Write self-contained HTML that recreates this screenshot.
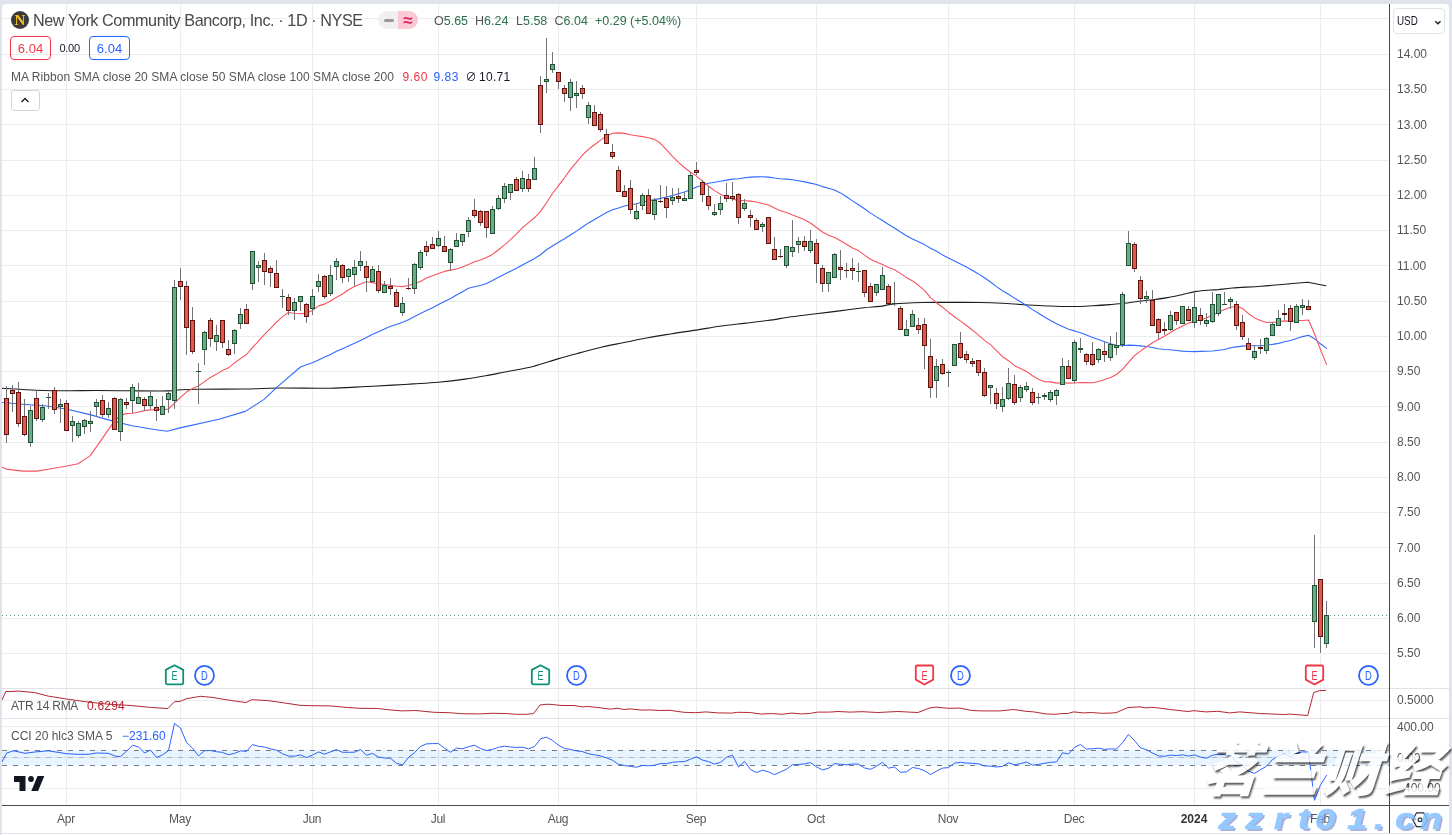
<!DOCTYPE html>
<html lang="en"><head><meta charset="utf-8"><title>NYCB chart</title>
<style>
html,body{margin:0;padding:0}
body{width:1452px;height:835px;background:#e0e3eb;position:relative;overflow:hidden;font-family:"Liberation Sans","Noto Sans CJK SC",sans-serif;color:#131722}
#card{position:absolute;left:2px;top:4px;width:1447px;height:829px;background:#fff;border-radius:4px 4px 0 0}
.abs{position:absolute;white-space:nowrap}
.pl{position:absolute;left:1397px;font-size:12px;line-height:15px;color:#555;white-space:nowrap;letter-spacing:0}
.tl{position:absolute;top:812px;width:60px;text-align:center;font-size:12px;line-height:15px;color:#555;letter-spacing:-0.3px}
.tl.b{color:#333;font-weight:bold;letter-spacing:0}
.g{color:#555}
.box{position:absolute;box-sizing:border-box;border-radius:4px;border:1px solid;height:24px;width:41px;top:36px;text-align:center;font-size:13px;line-height:24px}
#wm1{position:absolute;left:1197px;top:731px;font-size:57px;line-height:70px;font-weight:900;color:#fff;opacity:0.78;text-shadow:2px 2px 2px rgba(0,0,0,0.85);white-space:nowrap;font-family:"Noto Sans CJK SC","WenQuanYi Zen Hei",sans-serif;letter-spacing:4px;transform:skewX(-18deg);transform-origin:left bottom}
#wm2{position:absolute;left:0;top:800px;height:38px;font-size:30px;line-height:38px;font-weight:bold;font-style:italic;color:#82c0ff;opacity:0.85;-webkit-text-stroke:0.7px #82c0ff;text-shadow:2px 2px 0 rgba(110,125,200,0.7);white-space:nowrap;font-family:"Liberation Sans",sans-serif}
#wm2 span{position:absolute;top:0;width:40px;text-align:center;transform:scaleX(1.18)}
</style></head><body>
<div id="card"></div><div style="position:absolute;left:2px;top:834px;width:1447px;height:1px;background:#fff"></div>
<svg width="1452" height="835" viewBox="0 0 1452 835" style="position:absolute;left:0;top:0"><defs><clipPath id="mp"><rect x="2" y="4" width="1387" height="801"/></clipPath></defs><rect x="2" y="18" width="1387" height="1" fill="#ececec"/>
<rect x="2" y="54" width="1387" height="1" fill="#ececec"/>
<rect x="2" y="89" width="1387" height="1" fill="#ececec"/>
<rect x="2" y="124" width="1387" height="1" fill="#ececec"/>
<rect x="2" y="160" width="1387" height="1" fill="#ececec"/>
<rect x="2" y="195" width="1387" height="1" fill="#ececec"/>
<rect x="2" y="230" width="1387" height="1" fill="#ececec"/>
<rect x="2" y="265" width="1387" height="1" fill="#ececec"/>
<rect x="2" y="301" width="1387" height="1" fill="#ececec"/>
<rect x="2" y="336" width="1387" height="1" fill="#ececec"/>
<rect x="2" y="371" width="1387" height="1" fill="#ececec"/>
<rect x="2" y="406" width="1387" height="1" fill="#ececec"/>
<rect x="2" y="442" width="1387" height="1" fill="#ececec"/>
<rect x="2" y="477" width="1387" height="1" fill="#ececec"/>
<rect x="2" y="512" width="1387" height="1" fill="#ececec"/>
<rect x="2" y="547" width="1387" height="1" fill="#ececec"/>
<rect x="2" y="583" width="1387" height="1" fill="#ececec"/>
<rect x="2" y="618" width="1387" height="1" fill="#ececec"/>
<rect x="2" y="653" width="1387" height="1" fill="#ececec"/>
<rect x="66" y="4" width="1" height="801" fill="#ececec"/>
<rect x="180" y="4" width="1" height="801" fill="#ececec"/>
<rect x="312" y="4" width="1" height="801" fill="#ececec"/>
<rect x="438" y="4" width="1" height="801" fill="#ececec"/>
<rect x="558" y="4" width="1" height="801" fill="#ececec"/>
<rect x="696" y="4" width="1" height="801" fill="#ececec"/>
<rect x="816" y="4" width="1" height="801" fill="#ececec"/>
<rect x="948" y="4" width="1" height="801" fill="#ececec"/>
<rect x="1074" y="4" width="1" height="801" fill="#ececec"/>
<rect x="1194" y="4" width="1" height="801" fill="#ececec"/>
<rect x="1320" y="4" width="1" height="801" fill="#ececec"/>
<rect x="2" y="700" width="1387" height="1" fill="#ececec"/>
<rect x="2" y="726" width="1387" height="1" fill="#ececec"/>
<rect x="2" y="757" width="1387" height="1" fill="#ececec"/>
<rect x="2" y="788" width="1387" height="1" fill="#ececec"/><rect x="2" y="688" width="1447" height="1" fill="#e0e3eb"/><rect x="2" y="718" width="1447" height="1" fill="#e0e3eb"/><rect x="2" y="750" width="1387" height="15.5" fill="#2196f3" fill-opacity="0.1"/><line x1="2" x2="1389" y1="750.5" y2="750.5" stroke="#787b86" stroke-width="1" stroke-dasharray="5 6"/><line x1="2" x2="1389" y1="757.5" y2="757.5" stroke="#b0b3bb" stroke-width="1" stroke-dasharray="5 6"/><line x1="2" x2="1389" y1="765.5" y2="765.5" stroke="#787b86" stroke-width="1" stroke-dasharray="5 6"/><g clip-path="url(#mp)"><line x1="2" x2="1389" y1="615.5" y2="615.5" stroke="#5b9a76" stroke-width="1" stroke-dasharray="1 3"/><path d="M2.0,388.2 C7.7,388.5 25.2,389.8 36.0,390.2 C46.8,390.6 57.0,390.8 67.0,390.8 C77.0,390.9 85.2,390.5 96.0,390.5 C106.8,390.5 120.0,390.7 132.0,390.8 C144.0,390.9 160.0,391.1 168.0,390.9 C176.0,390.7 175.1,390.1 180.2,389.8 C185.3,389.5 187.7,389.3 198.5,389.2 C209.3,389.1 231.8,389.2 245.0,389.0 C258.2,388.8 265.8,388.1 278.0,388.0 C290.2,387.9 309.2,388.2 318.0,388.2 C326.8,388.2 323.4,388.4 330.7,388.2 C338.0,388.0 351.4,387.3 361.7,386.8 C372.0,386.3 384.0,385.6 392.6,385.1 C401.2,384.6 405.7,384.4 413.3,383.9 C420.9,383.4 429.5,383.0 438.1,382.2 C446.7,381.4 457.1,380.2 465.0,379.1 C472.9,378.0 478.7,377.0 485.6,375.8 C492.5,374.6 498.4,373.2 506.3,371.7 C514.2,370.1 524.5,368.6 533.1,366.5 C541.7,364.4 550.3,361.1 557.9,358.9 C565.5,356.7 571.7,355.0 578.6,353.1 C585.5,351.2 591.7,349.5 599.3,347.7 C606.9,345.9 615.9,344.2 624.0,342.5 C632.1,340.8 639.9,339.2 647.9,337.7 C655.9,336.2 663.9,335.0 671.9,333.7 C679.9,332.4 687.9,331.4 695.9,330.1 C703.9,328.9 711.8,327.3 719.8,326.2 C727.8,325.1 735.8,324.3 743.8,323.4 C751.8,322.4 759.7,321.6 767.7,320.5 C775.7,319.4 783.7,317.8 791.7,316.7 C799.7,315.6 807.7,314.8 815.7,313.8 C823.7,312.8 831.6,311.9 839.6,310.9 C847.6,309.9 856.9,308.6 863.6,307.8 C870.3,307.1 874.9,307.0 880.0,306.4 C885.1,305.8 887.2,304.5 894.4,303.9 C901.6,303.2 913.5,302.8 923.1,302.5 C932.7,302.2 942.3,302.4 951.9,302.4 C961.5,302.4 972.2,302.4 980.6,302.5 C989.0,302.6 995.0,302.9 1002.2,303.3 C1009.4,303.7 1019.4,304.4 1023.8,304.7 C1028.2,305.0 1024.1,304.8 1028.4,305.0 C1032.8,305.2 1042.2,305.8 1049.9,306.0 C1057.6,306.2 1067.2,306.6 1074.4,306.5 C1081.6,306.4 1087.1,306.0 1093.0,305.7 C1098.9,305.4 1104.8,305.0 1110.0,304.6 C1115.2,304.2 1119.6,303.9 1124.4,303.3 C1129.2,302.7 1133.9,301.8 1138.7,301.2 C1143.5,300.6 1148.3,300.3 1153.1,299.7 C1157.9,299.1 1162.7,298.4 1167.5,297.6 C1172.3,296.8 1177.1,295.7 1181.9,294.7 C1186.7,293.7 1191.4,292.2 1196.2,291.4 C1201.0,290.6 1207.0,290.3 1210.6,290.0 C1214.2,289.7 1214.4,290.0 1218.0,289.7 C1221.6,289.4 1225.2,288.6 1232.4,288.0 C1239.6,287.4 1251.5,287.0 1261.1,286.3 C1270.7,285.6 1285.1,284.1 1289.9,283.7" fill="none" stroke="#1c1c1c" stroke-width="1.1" stroke-linejoin="round" stroke-linecap="round"/><polyline points="1289.9,283.7 1307.8,282.2 1325.8,285.8" fill="none" stroke="#1c1c1c" stroke-width="1.1" stroke-linejoin="round" stroke-linecap="round" /><polyline points="1.5,402.5 23.0,404.2 47.0,406.0 67.0,409.2 90.0,414.6 112.0,420.9 132.0,425.8 156.0,429.7 167.0,431.3 180.0,427.9 218.9,419.3 245.3,411.4 263.7,399.6 277.9,386.4 300.5,367.0 306.5,364.7 312.5,362.7 318.5,359.9 324.5,357.1 330.5,354.4 336.5,351.3 342.5,348.7 348.5,346.1 354.5,343.3 360.5,340.4 366.5,337.4 372.5,334.3 378.5,331.7 384.5,329.0 390.5,326.3 396.5,324.4 402.5,322.2 408.5,319.8 414.5,316.5 420.5,313.5 426.5,310.5 432.5,307.7 438.5,304.5 444.5,301.4 450.5,298.5 456.5,295.1 462.5,291.7 468.5,288.2 474.5,286.8 480.5,285.5 486.5,283.5 492.5,280.6 498.5,277.2 504.5,274.3 510.5,271.2 516.5,268.3 522.5,265.0 528.5,261.7 534.5,258.5 540.5,254.7 546.5,249.8 552.5,246.0 558.5,242.3 564.5,238.8 570.5,235.0 576.5,231.1 582.5,227.0 588.5,222.9 594.5,219.4 600.5,216.0 606.5,212.6 612.5,209.8 618.5,208.0 624.5,206.0 630.5,204.7 636.5,203.7 642.5,202.0 648.5,200.9 654.5,199.6 660.5,198.4 666.5,197.0 672.5,195.6 678.5,193.7 684.5,192.0 690.5,189.7 696.5,187.1 702.5,184.9 708.5,183.2 714.5,182.2 720.5,181.2 726.5,180.1 732.5,179.1 738.5,178.7 744.5,177.7 750.5,177.1 756.5,176.9 762.5,176.7 768.5,177.1 774.5,178.0 780.5,178.7 786.5,179.1 792.5,179.8 798.5,180.7 804.5,181.9 810.5,183.1 816.5,184.5 822.5,186.6 828.5,188.3 834.5,190.0 840.5,192.9 846.5,196.8 852.5,200.9 858.5,204.7 864.5,208.7 870.5,213.1 876.5,216.9 882.5,220.5 888.5,224.5 894.5,228.0 900.5,232.0 906.5,235.8 912.5,238.9 918.5,241.7 924.5,244.6 930.5,248.2 936.5,251.3 942.5,254.9 948.5,258.0 954.5,260.9 960.5,264.0 966.5,267.1 972.5,270.4 978.5,273.9 984.5,277.8 990.5,282.0 996.5,286.6 1002.5,290.7 1008.5,294.3 1014.5,298.1 1020.5,301.8 1026.5,305.5 1032.5,309.6 1038.5,313.2 1044.5,317.0 1050.5,320.5 1056.5,323.7 1062.5,326.6 1068.5,329.3 1074.5,330.9 1080.5,332.8 1086.5,335.1 1092.5,337.4 1098.5,339.6 1104.5,341.7 1110.5,343.8 1116.5,345.4 1122.5,345.7 1128.5,345.1 1134.5,345.4 1140.5,345.9 1146.5,346.5 1152.5,347.5 1158.5,348.8 1164.5,349.5 1170.5,349.8 1176.5,350.5 1182.5,351.1 1188.5,351.5 1194.5,351.6 1200.5,351.4 1206.5,351.2 1212.5,351.0 1218.5,350.3 1224.5,349.5 1230.5,347.7 1236.5,346.9 1242.5,346.1 1248.5,345.7 1254.5,345.8 1260.5,345.6 1266.5,345.2 1272.5,344.4 1278.5,343.4 1284.5,341.7 1290.5,340.5 1296.5,338.5 1302.5,336.6 1308.5,335.2 1314.5,338.8 1320.5,343.8 1326.5,348.4" fill="none" stroke="#2f6bff" stroke-width="1.1" stroke-linejoin="round" stroke-linecap="round" /><polyline points="1.5,466.8 6.0,469.1 23.0,471.1 37.0,471.1 51.0,468.7 67.0,466.0 78.0,463.7 90.0,455.9 100.0,441.9 109.0,428.6 115.0,420.9 120.5,415.1 126.5,413.6 132.5,413.3 138.5,412.0 144.5,410.6 150.5,409.9 156.5,409.5 162.5,409.4 168.5,409.2 174.5,403.1 180.5,397.3 186.5,392.1 192.5,388.6 198.5,386.0 204.5,381.6 210.5,377.4 216.5,374.1 222.5,370.5 228.5,367.8 234.5,362.8 240.5,358.6 246.5,354.5 252.5,347.7 258.5,341.1 264.5,334.4 270.5,328.3 276.5,322.1 282.5,316.6 288.5,312.5 294.5,313.2 300.5,313.7 306.5,313.1 312.5,310.4 318.5,305.9 324.5,304.1 330.5,301.0 336.5,297.3 342.5,294.0 348.5,289.8 354.5,286.6 360.5,283.9 366.5,281.7 372.5,282.6 378.5,283.8 384.5,284.5 390.5,285.3 396.5,286.2 402.5,286.6 408.5,285.5 414.5,283.6 420.5,281.4 426.5,278.1 432.5,275.8 438.5,273.6 444.5,271.4 450.5,270.1 456.5,269.0 462.5,266.9 468.5,264.4 474.5,261.8 480.5,259.9 486.5,257.4 492.5,254.4 498.5,249.8 504.5,244.9 510.5,239.7 516.5,233.9 522.5,227.6 528.5,222.6 534.5,217.8 540.5,211.4 546.5,202.8 552.5,193.5 558.5,185.7 564.5,177.8 570.5,169.4 576.5,162.1 582.5,155.0 588.5,149.3 594.5,144.7 600.5,140.1 606.5,135.9 612.5,133.3 618.5,132.9 624.5,133.4 630.5,134.7 636.5,135.7 642.5,136.6 648.5,137.8 654.5,139.4 660.5,143.3 666.5,149.8 672.5,156.4 678.5,162.3 684.5,167.5 690.5,172.2 696.5,176.1 702.5,181.2 708.5,186.2 714.5,190.6 720.5,194.3 726.5,197.0 732.5,199.1 738.5,200.4 744.5,200.7 750.5,201.1 756.5,202.0 762.5,203.5 768.5,205.0 774.5,207.9 780.5,210.7 786.5,212.6 792.5,215.1 798.5,217.3 804.5,219.7 810.5,223.0 816.5,227.5 822.5,232.0 828.5,235.3 834.5,237.4 840.5,240.7 846.5,244.3 852.5,248.0 858.5,250.6 864.5,255.1 870.5,259.3 876.5,262.0 882.5,264.6 888.5,267.6 894.5,269.8 900.5,273.4 906.5,277.6 912.5,280.9 918.5,285.3 924.5,290.3 930.5,297.6 936.5,302.7 942.5,307.2 948.5,312.2 954.5,316.7 960.5,321.1 966.5,325.5 972.5,330.2 978.5,335.2 984.5,340.4 990.5,344.6 996.5,350.6 1002.5,356.7 1008.5,360.7 1014.5,365.7 1020.5,368.6 1026.5,371.4 1032.5,375.8 1038.5,379.2 1044.5,381.7 1050.5,381.9 1056.5,383.1 1062.5,382.8 1068.5,383.1 1074.5,383.0 1080.5,382.5 1086.5,382.6 1092.5,382.7 1098.5,381.5 1104.5,379.5 1110.5,377.4 1116.5,374.5 1122.5,369.3 1128.5,362.3 1134.5,355.6 1140.5,351.1 1146.5,346.7 1152.5,342.8 1158.5,339.6 1164.5,336.3 1170.5,332.5 1176.5,329.0 1182.5,326.0 1188.5,323.1 1194.5,321.3 1200.5,319.9 1206.5,317.9 1212.5,314.9 1218.5,312.1 1224.5,309.6 1230.5,307.3 1236.5,306.3 1242.5,308.4 1248.5,313.7 1254.5,317.9 1260.5,320.4 1266.5,322.5 1272.5,322.4 1278.5,321.7 1284.5,320.9 1290.5,321.2 1296.5,320.5 1302.5,320.5 1308.5,320.0 1314.5,333.8 1320.5,349.6 1326.5,364.4" fill="none" stroke="#f7525f" stroke-width="1.1" stroke-linejoin="round" stroke-linecap="round" /><rect x="6" y="386" width="1" height="57" fill="#737375"/>
<rect x="4.5" y="398.5" width="4" height="36" fill="#e0594a" stroke="#5c1410" stroke-width="1"/>
<rect x="12" y="385" width="1" height="27" fill="#737375"/>
<rect x="10.5" y="390.5" width="4" height="3" fill="#e0594a" stroke="#5c1410" stroke-width="1"/>
<rect x="18" y="382" width="1" height="45" fill="#737375"/>
<rect x="16.5" y="392.5" width="4" height="31" fill="#e0594a" stroke="#5c1410" stroke-width="1"/>
<rect x="24" y="399" width="1" height="37" fill="#737375"/>
<rect x="22.5" y="416.5" width="4" height="18" fill="#e0594a" stroke="#5c1410" stroke-width="1"/>
<rect x="30" y="406" width="1" height="41" fill="#737375"/>
<rect x="28.5" y="410.5" width="4" height="32" fill="#6eaa88" stroke="#1f5132" stroke-width="1"/>
<rect x="36" y="390" width="1" height="31" fill="#737375"/>
<rect x="34.5" y="398.5" width="4" height="20" fill="#e0594a" stroke="#5c1410" stroke-width="1"/>
<rect x="42" y="404" width="1" height="18" fill="#737375"/>
<rect x="40.5" y="407.5" width="4" height="12" fill="#6eaa88" stroke="#1f5132" stroke-width="1"/>
<rect x="48" y="393" width="1" height="16" fill="#737375"/>
<rect x="46" y="397" width="5" height="1" fill="#1f5132"/>
<rect x="54" y="387" width="1" height="27" fill="#737375"/>
<rect x="52.5" y="390.5" width="4" height="19" fill="#e0594a" stroke="#5c1410" stroke-width="1"/>
<rect x="60" y="399" width="1" height="24" fill="#737375"/>
<rect x="58.5" y="404.5" width="4" height="2" fill="#6eaa88" stroke="#1f5132" stroke-width="1"/>
<rect x="66" y="400" width="1" height="31" fill="#737375"/>
<rect x="64.5" y="403.5" width="4" height="27" fill="#e0594a" stroke="#5c1410" stroke-width="1"/>
<rect x="72" y="416" width="1" height="26" fill="#737375"/>
<rect x="70.5" y="421.5" width="4" height="4" fill="#6eaa88" stroke="#1f5132" stroke-width="1"/>
<rect x="78" y="421" width="1" height="17" fill="#737375"/>
<rect x="76.5" y="423.5" width="4" height="12" fill="#6eaa88" stroke="#1f5132" stroke-width="1"/>
<rect x="84" y="419" width="1" height="15" fill="#737375"/>
<rect x="82.5" y="420.5" width="4" height="6" fill="#6eaa88" stroke="#1f5132" stroke-width="1"/>
<rect x="90" y="411" width="1" height="21" fill="#737375"/>
<rect x="88.5" y="421.5" width="4" height="2" fill="#6eaa88" stroke="#1f5132" stroke-width="1"/>
<rect x="96" y="399" width="1" height="18" fill="#737375"/>
<rect x="94.5" y="402.5" width="4" height="4" fill="#6eaa88" stroke="#1f5132" stroke-width="1"/>
<rect x="102" y="395" width="1" height="22" fill="#737375"/>
<rect x="100.5" y="400.5" width="4" height="14" fill="#e0594a" stroke="#5c1410" stroke-width="1"/>
<rect x="108" y="402" width="1" height="16" fill="#737375"/>
<rect x="106.5" y="408.5" width="4" height="6" fill="#6eaa88" stroke="#1f5132" stroke-width="1"/>
<rect x="114" y="397" width="1" height="33" fill="#737375"/>
<rect x="112.5" y="398.5" width="4" height="31" fill="#e0594a" stroke="#5c1410" stroke-width="1"/>
<rect x="120" y="398" width="1" height="43" fill="#737375"/>
<rect x="118.5" y="399.5" width="4" height="32" fill="#6eaa88" stroke="#1f5132" stroke-width="1"/>
<rect x="126" y="398" width="1" height="11" fill="#737375"/>
<rect x="124.5" y="402.5" width="4" height="2" fill="#e0594a" stroke="#5c1410" stroke-width="1"/>
<rect x="132" y="384" width="1" height="29" fill="#737375"/>
<rect x="130.5" y="387.5" width="4" height="13" fill="#6eaa88" stroke="#1f5132" stroke-width="1"/>
<rect x="138" y="383" width="1" height="21" fill="#737375"/>
<rect x="136.5" y="397.5" width="4" height="6" fill="#6eaa88" stroke="#1f5132" stroke-width="1"/>
<rect x="144" y="397" width="1" height="14" fill="#737375"/>
<rect x="142.5" y="399.5" width="4" height="6" fill="#e0594a" stroke="#5c1410" stroke-width="1"/>
<rect x="150" y="391" width="1" height="18" fill="#737375"/>
<rect x="148.5" y="396.5" width="4" height="9" fill="#6eaa88" stroke="#1f5132" stroke-width="1"/>
<rect x="156" y="399" width="1" height="22" fill="#737375"/>
<rect x="154.5" y="407.5" width="4" height="3" fill="#e0594a" stroke="#5c1410" stroke-width="1"/>
<rect x="162" y="396" width="1" height="19" fill="#737375"/>
<rect x="160.5" y="406.5" width="4" height="8" fill="#6eaa88" stroke="#1f5132" stroke-width="1"/>
<rect x="168" y="391" width="1" height="22" fill="#737375"/>
<rect x="166.5" y="393.5" width="4" height="6" fill="#6eaa88" stroke="#1f5132" stroke-width="1"/>
<rect x="174" y="280" width="1" height="129" fill="#737375"/>
<rect x="172.5" y="287.5" width="4" height="113" fill="#6eaa88" stroke="#1f5132" stroke-width="1"/>
<rect x="180" y="268" width="1" height="32" fill="#737375"/>
<rect x="178.5" y="281.5" width="4" height="5" fill="#e0594a" stroke="#5c1410" stroke-width="1"/>
<rect x="186" y="281" width="1" height="74" fill="#737375"/>
<rect x="184.5" y="286.5" width="4" height="41" fill="#e0594a" stroke="#5c1410" stroke-width="1"/>
<rect x="192" y="307" width="1" height="47" fill="#737375"/>
<rect x="190.5" y="320.5" width="4" height="31" fill="#e0594a" stroke="#5c1410" stroke-width="1"/>
<rect x="198" y="363" width="1" height="41" fill="#737375"/>
<rect x="196" y="371" width="5" height="1" fill="#1f5132"/>
<rect x="204" y="331" width="1" height="34" fill="#737375"/>
<rect x="202.5" y="332.5" width="4" height="17" fill="#6eaa88" stroke="#1f5132" stroke-width="1"/>
<rect x="210" y="318" width="1" height="29" fill="#737375"/>
<rect x="208.5" y="320.5" width="4" height="18" fill="#e0594a" stroke="#5c1410" stroke-width="1"/>
<rect x="216" y="325" width="1" height="26" fill="#737375"/>
<rect x="214.5" y="335.5" width="4" height="6" fill="#6eaa88" stroke="#1f5132" stroke-width="1"/>
<rect x="222" y="320" width="1" height="28" fill="#737375"/>
<rect x="220.5" y="320.5" width="4" height="22" fill="#e0594a" stroke="#5c1410" stroke-width="1"/>
<rect x="228" y="340" width="1" height="16" fill="#737375"/>
<rect x="226.5" y="349.5" width="4" height="5" fill="#e0594a" stroke="#5c1410" stroke-width="1"/>
<rect x="234" y="329" width="1" height="25" fill="#737375"/>
<rect x="232.5" y="330.5" width="4" height="13" fill="#6eaa88" stroke="#1f5132" stroke-width="1"/>
<rect x="240" y="308" width="1" height="21" fill="#737375"/>
<rect x="238.5" y="314.5" width="4" height="9" fill="#6eaa88" stroke="#1f5132" stroke-width="1"/>
<rect x="246" y="304" width="1" height="20" fill="#737375"/>
<rect x="244.5" y="309.5" width="4" height="14" fill="#e0594a" stroke="#5c1410" stroke-width="1"/>
<rect x="252" y="251" width="1" height="39" fill="#737375"/>
<rect x="250.5" y="251.5" width="4" height="32" fill="#6eaa88" stroke="#1f5132" stroke-width="1"/>
<rect x="258" y="261" width="1" height="21" fill="#737375"/>
<rect x="256.5" y="265.5" width="4" height="2" fill="#6eaa88" stroke="#1f5132" stroke-width="1"/>
<rect x="264" y="253" width="1" height="32" fill="#737375"/>
<rect x="262.5" y="260.5" width="4" height="11" fill="#e0594a" stroke="#5c1410" stroke-width="1"/>
<rect x="270" y="266" width="1" height="21" fill="#737375"/>
<rect x="268.5" y="268.5" width="4" height="4" fill="#e0594a" stroke="#5c1410" stroke-width="1"/>
<rect x="276" y="260" width="1" height="28" fill="#737375"/>
<rect x="274.5" y="273.5" width="4" height="14" fill="#e0594a" stroke="#5c1410" stroke-width="1"/>
<rect x="282" y="289" width="1" height="19" fill="#737375"/>
<rect x="280" y="296" width="5" height="1" fill="#1f5132"/>
<rect x="288" y="294" width="1" height="21" fill="#737375"/>
<rect x="286.5" y="297.5" width="4" height="13" fill="#e0594a" stroke="#5c1410" stroke-width="1"/>
<rect x="294" y="298" width="1" height="22" fill="#737375"/>
<rect x="292.5" y="302.5" width="4" height="8" fill="#6eaa88" stroke="#1f5132" stroke-width="1"/>
<rect x="300" y="296" width="1" height="15" fill="#737375"/>
<rect x="298.5" y="296.5" width="4" height="5" fill="#6eaa88" stroke="#1f5132" stroke-width="1"/>
<rect x="306" y="303" width="1" height="20" fill="#737375"/>
<rect x="304.5" y="304.5" width="4" height="12" fill="#e0594a" stroke="#5c1410" stroke-width="1"/>
<rect x="312" y="289" width="1" height="26" fill="#737375"/>
<rect x="310.5" y="296.5" width="4" height="12" fill="#6eaa88" stroke="#1f5132" stroke-width="1"/>
<rect x="318" y="274" width="1" height="18" fill="#737375"/>
<rect x="316.5" y="281.5" width="4" height="5" fill="#6eaa88" stroke="#1f5132" stroke-width="1"/>
<rect x="324" y="275" width="1" height="24" fill="#737375"/>
<rect x="322.5" y="276.5" width="4" height="20" fill="#e0594a" stroke="#5c1410" stroke-width="1"/>
<rect x="330" y="265" width="1" height="31" fill="#737375"/>
<rect x="328.5" y="275.5" width="4" height="18" fill="#6eaa88" stroke="#1f5132" stroke-width="1"/>
<rect x="336" y="258" width="1" height="22" fill="#737375"/>
<rect x="334.5" y="261.5" width="4" height="5" fill="#6eaa88" stroke="#1f5132" stroke-width="1"/>
<rect x="342" y="264" width="1" height="19" fill="#737375"/>
<rect x="340.5" y="265.5" width="4" height="12" fill="#e0594a" stroke="#5c1410" stroke-width="1"/>
<rect x="348" y="268" width="1" height="14" fill="#737375"/>
<rect x="346.5" y="269.5" width="4" height="7" fill="#6eaa88" stroke="#1f5132" stroke-width="1"/>
<rect x="354" y="260" width="1" height="26" fill="#737375"/>
<rect x="352.5" y="267.5" width="4" height="7" fill="#6eaa88" stroke="#1f5132" stroke-width="1"/>
<rect x="360" y="251" width="1" height="20" fill="#737375"/>
<rect x="358.5" y="261.5" width="4" height="4" fill="#6eaa88" stroke="#1f5132" stroke-width="1"/>
<rect x="366" y="261" width="1" height="31" fill="#737375"/>
<rect x="364.5" y="266.5" width="4" height="11" fill="#e0594a" stroke="#5c1410" stroke-width="1"/>
<rect x="372" y="266" width="1" height="16" fill="#737375"/>
<rect x="370.5" y="269.5" width="4" height="12" fill="#6eaa88" stroke="#1f5132" stroke-width="1"/>
<rect x="378" y="265" width="1" height="28" fill="#737375"/>
<rect x="376.5" y="271.5" width="4" height="19" fill="#e0594a" stroke="#5c1410" stroke-width="1"/>
<rect x="384" y="281" width="1" height="12" fill="#737375"/>
<rect x="382.5" y="285.5" width="4" height="7" fill="#6eaa88" stroke="#1f5132" stroke-width="1"/>
<rect x="390" y="278" width="1" height="17" fill="#737375"/>
<rect x="388.5" y="286.5" width="4" height="2" fill="#e0594a" stroke="#5c1410" stroke-width="1"/>
<rect x="396" y="289" width="1" height="18" fill="#737375"/>
<rect x="394.5" y="292.5" width="4" height="14" fill="#e0594a" stroke="#5c1410" stroke-width="1"/>
<rect x="402" y="297" width="1" height="19" fill="#737375"/>
<rect x="400.5" y="303.5" width="4" height="9" fill="#6eaa88" stroke="#1f5132" stroke-width="1"/>
<rect x="408" y="278" width="1" height="12" fill="#737375"/>
<rect x="406" y="288" width="5" height="1" fill="#5c1410"/>
<rect x="414" y="263" width="1" height="31" fill="#737375"/>
<rect x="412.5" y="264.5" width="4" height="24" fill="#6eaa88" stroke="#1f5132" stroke-width="1"/>
<rect x="420" y="250" width="1" height="20" fill="#737375"/>
<rect x="418.5" y="252.5" width="4" height="15" fill="#6eaa88" stroke="#1f5132" stroke-width="1"/>
<rect x="426" y="241" width="1" height="15" fill="#737375"/>
<rect x="424.5" y="246.5" width="4" height="5" fill="#e0594a" stroke="#5c1410" stroke-width="1"/>
<rect x="432" y="237" width="1" height="12" fill="#737375"/>
<rect x="430.5" y="244.5" width="4" height="4" fill="#e0594a" stroke="#5c1410" stroke-width="1"/>
<rect x="438" y="231" width="1" height="16" fill="#737375"/>
<rect x="436.5" y="238.5" width="4" height="7" fill="#6eaa88" stroke="#1f5132" stroke-width="1"/>
<rect x="444" y="236" width="1" height="16" fill="#737375"/>
<rect x="442.5" y="246.5" width="4" height="5" fill="#e0594a" stroke="#5c1410" stroke-width="1"/>
<rect x="450" y="248" width="1" height="23" fill="#737375"/>
<rect x="448.5" y="249.5" width="4" height="13" fill="#6eaa88" stroke="#1f5132" stroke-width="1"/>
<rect x="456" y="233" width="1" height="14" fill="#737375"/>
<rect x="454.5" y="240.5" width="4" height="6" fill="#6eaa88" stroke="#1f5132" stroke-width="1"/>
<rect x="462" y="234" width="1" height="12" fill="#737375"/>
<rect x="460.5" y="234.5" width="4" height="7" fill="#6eaa88" stroke="#1f5132" stroke-width="1"/>
<rect x="468" y="217" width="1" height="20" fill="#737375"/>
<rect x="466.5" y="220.5" width="4" height="11" fill="#6eaa88" stroke="#1f5132" stroke-width="1"/>
<rect x="474" y="199" width="1" height="19" fill="#737375"/>
<rect x="472.5" y="210.5" width="4" height="5" fill="#e0594a" stroke="#5c1410" stroke-width="1"/>
<rect x="480" y="210" width="1" height="16" fill="#737375"/>
<rect x="478.5" y="211.5" width="4" height="11" fill="#e0594a" stroke="#5c1410" stroke-width="1"/>
<rect x="486" y="211" width="1" height="27" fill="#737375"/>
<rect x="484.5" y="211.5" width="4" height="16" fill="#e0594a" stroke="#5c1410" stroke-width="1"/>
<rect x="492" y="206" width="1" height="28" fill="#737375"/>
<rect x="490.5" y="209.5" width="4" height="24" fill="#6eaa88" stroke="#1f5132" stroke-width="1"/>
<rect x="498" y="195" width="1" height="15" fill="#737375"/>
<rect x="496.5" y="198.5" width="4" height="10" fill="#6eaa88" stroke="#1f5132" stroke-width="1"/>
<rect x="504" y="183" width="1" height="20" fill="#737375"/>
<rect x="502.5" y="186.5" width="4" height="12" fill="#6eaa88" stroke="#1f5132" stroke-width="1"/>
<rect x="510" y="184" width="1" height="16" fill="#737375"/>
<rect x="508.5" y="184.5" width="4" height="8" fill="#6eaa88" stroke="#1f5132" stroke-width="1"/>
<rect x="516" y="177" width="1" height="14" fill="#737375"/>
<rect x="514.5" y="179.5" width="4" height="11" fill="#e0594a" stroke="#5c1410" stroke-width="1"/>
<rect x="522" y="171" width="1" height="21" fill="#737375"/>
<rect x="520.5" y="178.5" width="4" height="10" fill="#6eaa88" stroke="#1f5132" stroke-width="1"/>
<rect x="528" y="174" width="1" height="18" fill="#737375"/>
<rect x="526.5" y="179.5" width="4" height="9" fill="#e0594a" stroke="#5c1410" stroke-width="1"/>
<rect x="534" y="157" width="1" height="23" fill="#737375"/>
<rect x="532.5" y="168.5" width="4" height="11" fill="#6eaa88" stroke="#1f5132" stroke-width="1"/>
<rect x="540" y="76" width="1" height="57" fill="#737375"/>
<rect x="538.5" y="85.5" width="4" height="39" fill="#e0594a" stroke="#5c1410" stroke-width="1"/>
<rect x="546" y="38" width="1" height="55" fill="#737375"/>
<rect x="544.5" y="79.5" width="4" height="2" fill="#6eaa88" stroke="#1f5132" stroke-width="1"/>
<rect x="552" y="52" width="1" height="21" fill="#737375"/>
<rect x="550.5" y="64.5" width="4" height="5" fill="#6eaa88" stroke="#1f5132" stroke-width="1"/>
<rect x="558" y="72" width="1" height="17" fill="#737375"/>
<rect x="556.5" y="72.5" width="4" height="9" fill="#e0594a" stroke="#5c1410" stroke-width="1"/>
<rect x="564" y="85" width="1" height="17" fill="#737375"/>
<rect x="562.5" y="88.5" width="4" height="5" fill="#e0594a" stroke="#5c1410" stroke-width="1"/>
<rect x="570" y="79" width="1" height="32" fill="#737375"/>
<rect x="568.5" y="82.5" width="4" height="15" fill="#6eaa88" stroke="#1f5132" stroke-width="1"/>
<rect x="576" y="81" width="1" height="27" fill="#737375"/>
<rect x="574.5" y="93.5" width="4" height="2" fill="#6eaa88" stroke="#1f5132" stroke-width="1"/>
<rect x="582" y="85" width="1" height="14" fill="#737375"/>
<rect x="580.5" y="88.5" width="4" height="5" fill="#e0594a" stroke="#5c1410" stroke-width="1"/>
<rect x="588" y="102" width="1" height="22" fill="#737375"/>
<rect x="586.5" y="105.5" width="4" height="12" fill="#6eaa88" stroke="#1f5132" stroke-width="1"/>
<rect x="594" y="105" width="1" height="21" fill="#737375"/>
<rect x="592.5" y="112.5" width="4" height="13" fill="#e0594a" stroke="#5c1410" stroke-width="1"/>
<rect x="600" y="112" width="1" height="20" fill="#737375"/>
<rect x="598.5" y="114.5" width="4" height="15" fill="#e0594a" stroke="#5c1410" stroke-width="1"/>
<rect x="606" y="129" width="1" height="15" fill="#737375"/>
<rect x="604.5" y="134.5" width="4" height="9" fill="#e0594a" stroke="#5c1410" stroke-width="1"/>
<rect x="612" y="144" width="1" height="15" fill="#737375"/>
<rect x="610.5" y="152.5" width="4" height="4" fill="#e0594a" stroke="#5c1410" stroke-width="1"/>
<rect x="618" y="166" width="1" height="26" fill="#737375"/>
<rect x="616.5" y="170.5" width="4" height="21" fill="#e0594a" stroke="#5c1410" stroke-width="1"/>
<rect x="624" y="185" width="1" height="12" fill="#737375"/>
<rect x="622.5" y="191.5" width="4" height="5" fill="#e0594a" stroke="#5c1410" stroke-width="1"/>
<rect x="630" y="180" width="1" height="34" fill="#737375"/>
<rect x="628.5" y="188.5" width="4" height="21" fill="#e0594a" stroke="#5c1410" stroke-width="1"/>
<rect x="636" y="203" width="1" height="17" fill="#737375"/>
<rect x="634.5" y="211.5" width="4" height="7" fill="#6eaa88" stroke="#1f5132" stroke-width="1"/>
<rect x="642" y="193" width="1" height="17" fill="#737375"/>
<rect x="640.5" y="195.5" width="4" height="10" fill="#6eaa88" stroke="#1f5132" stroke-width="1"/>
<rect x="648" y="189" width="1" height="25" fill="#737375"/>
<rect x="646.5" y="195.5" width="4" height="18" fill="#e0594a" stroke="#5c1410" stroke-width="1"/>
<rect x="654" y="198" width="1" height="22" fill="#737375"/>
<rect x="652.5" y="200.5" width="4" height="14" fill="#6eaa88" stroke="#1f5132" stroke-width="1"/>
<rect x="660" y="185" width="1" height="18" fill="#737375"/>
<rect x="658" y="201" width="5" height="1" fill="#5c1410"/>
<rect x="666" y="186" width="1" height="32" fill="#737375"/>
<rect x="664.5" y="198.5" width="4" height="9" fill="#e0594a" stroke="#5c1410" stroke-width="1"/>
<rect x="672" y="188" width="1" height="17" fill="#737375"/>
<rect x="670.5" y="197.5" width="4" height="3" fill="#6eaa88" stroke="#1f5132" stroke-width="1"/>
<rect x="678" y="188" width="1" height="15" fill="#737375"/>
<rect x="676.5" y="196.5" width="4" height="2" fill="#e0594a" stroke="#5c1410" stroke-width="1"/>
<rect x="684" y="192" width="1" height="9" fill="#737375"/>
<rect x="682.5" y="198.5" width="4" height="2" fill="#6eaa88" stroke="#1f5132" stroke-width="1"/>
<rect x="690" y="172" width="1" height="27" fill="#737375"/>
<rect x="688.5" y="175.5" width="4" height="23" fill="#6eaa88" stroke="#1f5132" stroke-width="1"/>
<rect x="696" y="162" width="1" height="13" fill="#737375"/>
<rect x="694.5" y="170.5" width="4" height="2" fill="#e0594a" stroke="#5c1410" stroke-width="1"/>
<rect x="702" y="180" width="1" height="22" fill="#737375"/>
<rect x="700.5" y="182.5" width="4" height="12" fill="#e0594a" stroke="#5c1410" stroke-width="1"/>
<rect x="708" y="186" width="1" height="24" fill="#737375"/>
<rect x="706.5" y="196.5" width="4" height="9" fill="#e0594a" stroke="#5c1410" stroke-width="1"/>
<rect x="714" y="204" width="1" height="12" fill="#737375"/>
<rect x="712.5" y="212.5" width="4" height="2" fill="#6eaa88" stroke="#1f5132" stroke-width="1"/>
<rect x="720" y="196" width="1" height="19" fill="#737375"/>
<rect x="718.5" y="203.5" width="4" height="6" fill="#6eaa88" stroke="#1f5132" stroke-width="1"/>
<rect x="726" y="183" width="1" height="19" fill="#737375"/>
<rect x="724.5" y="195.5" width="4" height="3" fill="#e0594a" stroke="#5c1410" stroke-width="1"/>
<rect x="732" y="182" width="1" height="19" fill="#737375"/>
<rect x="730.5" y="196.5" width="4" height="2" fill="#e0594a" stroke="#5c1410" stroke-width="1"/>
<rect x="738" y="193" width="1" height="31" fill="#737375"/>
<rect x="736.5" y="194.5" width="4" height="23" fill="#e0594a" stroke="#5c1410" stroke-width="1"/>
<rect x="744" y="199" width="1" height="12" fill="#737375"/>
<rect x="742.5" y="203.5" width="4" height="5" fill="#6eaa88" stroke="#1f5132" stroke-width="1"/>
<rect x="750" y="210" width="1" height="17" fill="#737375"/>
<rect x="748.5" y="215.5" width="4" height="2" fill="#e0594a" stroke="#5c1410" stroke-width="1"/>
<rect x="756" y="218" width="1" height="12" fill="#737375"/>
<rect x="754.5" y="220.5" width="4" height="9" fill="#e0594a" stroke="#5c1410" stroke-width="1"/>
<rect x="762" y="222" width="1" height="10" fill="#737375"/>
<rect x="760.5" y="224.5" width="4" height="2" fill="#6eaa88" stroke="#1f5132" stroke-width="1"/>
<rect x="768" y="217" width="1" height="27" fill="#737375"/>
<rect x="766.5" y="217.5" width="4" height="26" fill="#e0594a" stroke="#5c1410" stroke-width="1"/>
<rect x="774" y="237" width="1" height="23" fill="#737375"/>
<rect x="772.5" y="249.5" width="4" height="10" fill="#e0594a" stroke="#5c1410" stroke-width="1"/>
<rect x="780" y="249" width="1" height="9" fill="#737375"/>
<rect x="778" y="256" width="5" height="1" fill="#5c1410"/>
<rect x="786" y="246" width="1" height="22" fill="#737375"/>
<rect x="784.5" y="246.5" width="4" height="19" fill="#6eaa88" stroke="#1f5132" stroke-width="1"/>
<rect x="792" y="220" width="1" height="37" fill="#737375"/>
<rect x="790.5" y="247.5" width="4" height="4" fill="#6eaa88" stroke="#1f5132" stroke-width="1"/>
<rect x="798" y="237" width="1" height="16" fill="#737375"/>
<rect x="796.5" y="241.5" width="4" height="3" fill="#6eaa88" stroke="#1f5132" stroke-width="1"/>
<rect x="804" y="236" width="1" height="15" fill="#737375"/>
<rect x="802.5" y="241.5" width="4" height="5" fill="#e0594a" stroke="#5c1410" stroke-width="1"/>
<rect x="810" y="230" width="1" height="23" fill="#737375"/>
<rect x="808.5" y="241.5" width="4" height="9" fill="#6eaa88" stroke="#1f5132" stroke-width="1"/>
<rect x="816" y="239" width="1" height="44" fill="#737375"/>
<rect x="814.5" y="243.5" width="4" height="20" fill="#e0594a" stroke="#5c1410" stroke-width="1"/>
<rect x="822" y="265" width="1" height="27" fill="#737375"/>
<rect x="820.5" y="268.5" width="4" height="15" fill="#e0594a" stroke="#5c1410" stroke-width="1"/>
<rect x="828" y="272" width="1" height="20" fill="#737375"/>
<rect x="826.5" y="272.5" width="4" height="11" fill="#6eaa88" stroke="#1f5132" stroke-width="1"/>
<rect x="834" y="253" width="1" height="25" fill="#737375"/>
<rect x="832.5" y="254.5" width="4" height="23" fill="#6eaa88" stroke="#1f5132" stroke-width="1"/>
<rect x="840" y="250" width="1" height="30" fill="#737375"/>
<rect x="838.5" y="267.5" width="4" height="2" fill="#e0594a" stroke="#5c1410" stroke-width="1"/>
<rect x="846" y="263" width="1" height="15" fill="#737375"/>
<rect x="844" y="270" width="5" height="1" fill="#5c1410"/>
<rect x="852" y="258" width="1" height="22" fill="#737375"/>
<rect x="850.5" y="268.5" width="4" height="2" fill="#e0594a" stroke="#5c1410" stroke-width="1"/>
<rect x="858" y="263" width="1" height="19" fill="#737375"/>
<rect x="856" y="271" width="5" height="1" fill="#1f5132"/>
<rect x="864" y="270" width="1" height="27" fill="#737375"/>
<rect x="862.5" y="270.5" width="4" height="22" fill="#e0594a" stroke="#5c1410" stroke-width="1"/>
<rect x="870" y="283" width="1" height="19" fill="#737375"/>
<rect x="868.5" y="286.5" width="4" height="15" fill="#e0594a" stroke="#5c1410" stroke-width="1"/>
<rect x="876" y="284" width="1" height="12" fill="#737375"/>
<rect x="874.5" y="284.5" width="4" height="8" fill="#6eaa88" stroke="#1f5132" stroke-width="1"/>
<rect x="882" y="267" width="1" height="23" fill="#737375"/>
<rect x="880.5" y="275.5" width="4" height="14" fill="#6eaa88" stroke="#1f5132" stroke-width="1"/>
<rect x="888" y="284" width="1" height="20" fill="#737375"/>
<rect x="886.5" y="286.5" width="4" height="17" fill="#e0594a" stroke="#5c1410" stroke-width="1"/>
<rect x="894" y="282" width="1" height="24" fill="#737375"/>
<rect x="892" y="303" width="5" height="1" fill="#1f5132"/>
<rect x="900" y="306" width="1" height="24" fill="#737375"/>
<rect x="898.5" y="308.5" width="4" height="21" fill="#e0594a" stroke="#5c1410" stroke-width="1"/>
<rect x="906" y="320" width="1" height="16" fill="#737375"/>
<rect x="904.5" y="329.5" width="4" height="6" fill="#6eaa88" stroke="#1f5132" stroke-width="1"/>
<rect x="912" y="310" width="1" height="17" fill="#737375"/>
<rect x="910.5" y="314.5" width="4" height="12" fill="#6eaa88" stroke="#1f5132" stroke-width="1"/>
<rect x="918" y="318" width="1" height="16" fill="#737375"/>
<rect x="916.5" y="325.5" width="4" height="4" fill="#e0594a" stroke="#5c1410" stroke-width="1"/>
<rect x="924" y="318" width="1" height="51" fill="#737375"/>
<rect x="922.5" y="324.5" width="4" height="21" fill="#e0594a" stroke="#5c1410" stroke-width="1"/>
<rect x="930" y="339" width="1" height="59" fill="#737375"/>
<rect x="928.5" y="356.5" width="4" height="31" fill="#e0594a" stroke="#5c1410" stroke-width="1"/>
<rect x="936" y="359" width="1" height="39" fill="#737375"/>
<rect x="934.5" y="366.5" width="4" height="14" fill="#6eaa88" stroke="#1f5132" stroke-width="1"/>
<rect x="942" y="359" width="1" height="16" fill="#737375"/>
<rect x="940.5" y="364.5" width="4" height="9" fill="#e0594a" stroke="#5c1410" stroke-width="1"/>
<rect x="948" y="370" width="1" height="17" fill="#737375"/>
<rect x="946" y="372" width="5" height="1" fill="#1f5132"/>
<rect x="954" y="344" width="1" height="22" fill="#737375"/>
<rect x="952.5" y="344.5" width="4" height="21" fill="#6eaa88" stroke="#1f5132" stroke-width="1"/>
<rect x="960" y="332" width="1" height="27" fill="#737375"/>
<rect x="958.5" y="343.5" width="4" height="14" fill="#e0594a" stroke="#5c1410" stroke-width="1"/>
<rect x="966" y="351" width="1" height="12" fill="#737375"/>
<rect x="964.5" y="354.5" width="4" height="5" fill="#e0594a" stroke="#5c1410" stroke-width="1"/>
<rect x="972" y="358" width="1" height="9" fill="#737375"/>
<rect x="970.5" y="361.5" width="4" height="2" fill="#e0594a" stroke="#5c1410" stroke-width="1"/>
<rect x="978" y="360" width="1" height="16" fill="#737375"/>
<rect x="976.5" y="360.5" width="4" height="12" fill="#e0594a" stroke="#5c1410" stroke-width="1"/>
<rect x="984" y="368" width="1" height="29" fill="#737375"/>
<rect x="982.5" y="372.5" width="4" height="23" fill="#e0594a" stroke="#5c1410" stroke-width="1"/>
<rect x="990" y="385" width="1" height="19" fill="#737375"/>
<rect x="988.5" y="385.5" width="4" height="2" fill="#6eaa88" stroke="#1f5132" stroke-width="1"/>
<rect x="996" y="388" width="1" height="21" fill="#737375"/>
<rect x="994.5" y="393.5" width="4" height="10" fill="#e0594a" stroke="#5c1410" stroke-width="1"/>
<rect x="1002" y="387" width="1" height="25" fill="#737375"/>
<rect x="1000.5" y="399.5" width="4" height="7" fill="#6eaa88" stroke="#1f5132" stroke-width="1"/>
<rect x="1008" y="368" width="1" height="32" fill="#737375"/>
<rect x="1006.5" y="383.5" width="4" height="15" fill="#6eaa88" stroke="#1f5132" stroke-width="1"/>
<rect x="1014" y="375" width="1" height="30" fill="#737375"/>
<rect x="1012.5" y="384.5" width="4" height="18" fill="#e0594a" stroke="#5c1410" stroke-width="1"/>
<rect x="1020" y="385" width="1" height="17" fill="#737375"/>
<rect x="1018.5" y="387.5" width="4" height="10" fill="#6eaa88" stroke="#1f5132" stroke-width="1"/>
<rect x="1026" y="382" width="1" height="10" fill="#737375"/>
<rect x="1024.5" y="386.5" width="4" height="3" fill="#6eaa88" stroke="#1f5132" stroke-width="1"/>
<rect x="1032" y="388" width="1" height="17" fill="#737375"/>
<rect x="1030.5" y="392.5" width="4" height="10" fill="#e0594a" stroke="#5c1410" stroke-width="1"/>
<rect x="1038" y="393" width="1" height="11" fill="#737375"/>
<rect x="1036" y="397" width="5" height="1" fill="#1f5132"/>
<rect x="1044" y="393" width="1" height="7" fill="#737375"/>
<rect x="1042" y="395" width="5" height="2" fill="#1f5132"/>
<rect x="1050" y="390" width="1" height="12" fill="#737375"/>
<rect x="1048.5" y="392.5" width="4" height="7" fill="#6eaa88" stroke="#1f5132" stroke-width="1"/>
<rect x="1056" y="389" width="1" height="16" fill="#737375"/>
<rect x="1054.5" y="390.5" width="4" height="5" fill="#6eaa88" stroke="#1f5132" stroke-width="1"/>
<rect x="1062" y="358" width="1" height="27" fill="#737375"/>
<rect x="1060.5" y="366.5" width="4" height="18" fill="#6eaa88" stroke="#1f5132" stroke-width="1"/>
<rect x="1068" y="360" width="1" height="19" fill="#737375"/>
<rect x="1066.5" y="366.5" width="4" height="12" fill="#e0594a" stroke="#5c1410" stroke-width="1"/>
<rect x="1074" y="340" width="1" height="43" fill="#737375"/>
<rect x="1072.5" y="342.5" width="4" height="38" fill="#6eaa88" stroke="#1f5132" stroke-width="1"/>
<rect x="1080" y="338" width="1" height="15" fill="#737375"/>
<rect x="1078" y="348" width="5" height="2" fill="#1f5132"/>
<rect x="1086" y="353" width="1" height="12" fill="#737375"/>
<rect x="1084.5" y="354.5" width="4" height="7" fill="#e0594a" stroke="#5c1410" stroke-width="1"/>
<rect x="1092" y="342" width="1" height="24" fill="#737375"/>
<rect x="1090.5" y="354.5" width="4" height="10" fill="#e0594a" stroke="#5c1410" stroke-width="1"/>
<rect x="1098" y="348" width="1" height="15" fill="#737375"/>
<rect x="1096.5" y="349.5" width="4" height="10" fill="#6eaa88" stroke="#1f5132" stroke-width="1"/>
<rect x="1104" y="342" width="1" height="20" fill="#737375"/>
<rect x="1102.5" y="351.5" width="4" height="3" fill="#e0594a" stroke="#5c1410" stroke-width="1"/>
<rect x="1110" y="336" width="1" height="25" fill="#737375"/>
<rect x="1108.5" y="344.5" width="4" height="13" fill="#6eaa88" stroke="#1f5132" stroke-width="1"/>
<rect x="1116" y="332" width="1" height="23" fill="#737375"/>
<rect x="1114.5" y="345.5" width="4" height="2" fill="#6eaa88" stroke="#1f5132" stroke-width="1"/>
<rect x="1122" y="292" width="1" height="55" fill="#737375"/>
<rect x="1120.5" y="294.5" width="4" height="50" fill="#6eaa88" stroke="#1f5132" stroke-width="1"/>
<rect x="1128" y="231" width="1" height="35" fill="#737375"/>
<rect x="1126.5" y="243.5" width="4" height="22" fill="#6eaa88" stroke="#1f5132" stroke-width="1"/>
<rect x="1134" y="242" width="1" height="30" fill="#737375"/>
<rect x="1132.5" y="244.5" width="4" height="24" fill="#e0594a" stroke="#5c1410" stroke-width="1"/>
<rect x="1140" y="276" width="1" height="28" fill="#737375"/>
<rect x="1138.5" y="280.5" width="4" height="18" fill="#e0594a" stroke="#5c1410" stroke-width="1"/>
<rect x="1146" y="291" width="1" height="12" fill="#737375"/>
<rect x="1144.5" y="296.5" width="4" height="2" fill="#6eaa88" stroke="#1f5132" stroke-width="1"/>
<rect x="1152" y="290" width="1" height="36" fill="#737375"/>
<rect x="1150.5" y="300.5" width="4" height="25" fill="#e0594a" stroke="#5c1410" stroke-width="1"/>
<rect x="1158" y="318" width="1" height="21" fill="#737375"/>
<rect x="1156.5" y="319.5" width="4" height="13" fill="#e0594a" stroke="#5c1410" stroke-width="1"/>
<rect x="1164" y="322" width="1" height="13" fill="#737375"/>
<rect x="1162" y="329" width="5" height="2" fill="#5c1410"/>
<rect x="1170" y="311" width="1" height="20" fill="#737375"/>
<rect x="1168.5" y="315.5" width="4" height="14" fill="#6eaa88" stroke="#1f5132" stroke-width="1"/>
<rect x="1176" y="312" width="1" height="13" fill="#737375"/>
<rect x="1174.5" y="312.5" width="4" height="8" fill="#e0594a" stroke="#5c1410" stroke-width="1"/>
<rect x="1182" y="306" width="1" height="18" fill="#737375"/>
<rect x="1180.5" y="306.5" width="4" height="17" fill="#6eaa88" stroke="#1f5132" stroke-width="1"/>
<rect x="1188" y="306" width="1" height="15" fill="#737375"/>
<rect x="1186.5" y="309.5" width="4" height="11" fill="#e0594a" stroke="#5c1410" stroke-width="1"/>
<rect x="1194" y="293" width="1" height="35" fill="#737375"/>
<rect x="1192.5" y="307.5" width="4" height="15" fill="#6eaa88" stroke="#1f5132" stroke-width="1"/>
<rect x="1200" y="308" width="1" height="17" fill="#737375"/>
<rect x="1198.5" y="315.5" width="4" height="5" fill="#e0594a" stroke="#5c1410" stroke-width="1"/>
<rect x="1206" y="313" width="1" height="14" fill="#737375"/>
<rect x="1204.5" y="320.5" width="4" height="3" fill="#6eaa88" stroke="#1f5132" stroke-width="1"/>
<rect x="1212" y="292" width="1" height="31" fill="#737375"/>
<rect x="1210.5" y="304.5" width="4" height="17" fill="#6eaa88" stroke="#1f5132" stroke-width="1"/>
<rect x="1218" y="294" width="1" height="22" fill="#737375"/>
<rect x="1216.5" y="294.5" width="4" height="19" fill="#6eaa88" stroke="#1f5132" stroke-width="1"/>
<rect x="1224" y="292" width="1" height="13" fill="#737375"/>
<rect x="1222" y="304" width="5" height="1" fill="#1f5132"/>
<rect x="1230" y="297" width="1" height="12" fill="#737375"/>
<rect x="1228.5" y="299.5" width="4" height="2" fill="#6eaa88" stroke="#1f5132" stroke-width="1"/>
<rect x="1236" y="301" width="1" height="29" fill="#737375"/>
<rect x="1234.5" y="304.5" width="4" height="21" fill="#e0594a" stroke="#5c1410" stroke-width="1"/>
<rect x="1242" y="315" width="1" height="25" fill="#737375"/>
<rect x="1240.5" y="322.5" width="4" height="14" fill="#e0594a" stroke="#5c1410" stroke-width="1"/>
<rect x="1248" y="338" width="1" height="12" fill="#737375"/>
<rect x="1246.5" y="343.5" width="4" height="6" fill="#e0594a" stroke="#5c1410" stroke-width="1"/>
<rect x="1254" y="345" width="1" height="15" fill="#737375"/>
<rect x="1252.5" y="351.5" width="4" height="6" fill="#6eaa88" stroke="#1f5132" stroke-width="1"/>
<rect x="1260" y="339" width="1" height="15" fill="#737375"/>
<rect x="1258" y="347" width="5" height="2" fill="#5c1410"/>
<rect x="1266" y="337" width="1" height="17" fill="#737375"/>
<rect x="1264.5" y="338.5" width="4" height="12" fill="#6eaa88" stroke="#1f5132" stroke-width="1"/>
<rect x="1272" y="322" width="1" height="14" fill="#737375"/>
<rect x="1270.5" y="324.5" width="4" height="11" fill="#6eaa88" stroke="#1f5132" stroke-width="1"/>
<rect x="1278" y="310" width="1" height="16" fill="#737375"/>
<rect x="1276.5" y="318.5" width="4" height="7" fill="#6eaa88" stroke="#1f5132" stroke-width="1"/>
<rect x="1284" y="304" width="1" height="16" fill="#737375"/>
<rect x="1282" y="313" width="5" height="2" fill="#5c1410"/>
<rect x="1290" y="305" width="1" height="26" fill="#737375"/>
<rect x="1288.5" y="308.5" width="4" height="13" fill="#e0594a" stroke="#5c1410" stroke-width="1"/>
<rect x="1296" y="304" width="1" height="19" fill="#737375"/>
<rect x="1294.5" y="306.5" width="4" height="16" fill="#6eaa88" stroke="#1f5132" stroke-width="1"/>
<rect x="1302" y="299" width="1" height="16" fill="#737375"/>
<rect x="1300.5" y="305.5" width="4" height="2" fill="#6eaa88" stroke="#1f5132" stroke-width="1"/>
<rect x="1308" y="300" width="1" height="10" fill="#737375"/>
<rect x="1306.5" y="306.5" width="4" height="3" fill="#e0594a" stroke="#5c1410" stroke-width="1"/>
<rect x="1314" y="535" width="1" height="113" fill="#737375"/>
<rect x="1312.5" y="585.5" width="4" height="36" fill="#6eaa88" stroke="#1f5132" stroke-width="1"/>
<rect x="1320" y="579" width="1" height="74" fill="#737375"/>
<rect x="1318.5" y="579.5" width="4" height="57" fill="#e0594a" stroke="#5c1410" stroke-width="1"/>
<rect x="1326" y="601" width="1" height="47" fill="#737375"/>
<rect x="1324.5" y="615.5" width="4" height="28" fill="#6eaa88" stroke="#1f5132" stroke-width="1"/><polyline points="2.0,699.7 5.8,691.6 19.3,691.1 34.7,692.6 48.2,696.1 66.5,699.0 86.8,701.9 108.0,704.2 131.1,705.5 150.4,707.4 167.8,708.6 174.5,701.7 180.3,701.3 186.1,698.8 200.5,696.3 212.1,697.4 227.5,699.9 245.9,702.6 251.6,699.7 266.1,700.5 270.0,700.9 284.0,702.9 300.0,705.3 311.9,705.7 329.9,705.9 347.9,707.5 359.9,708.3 377.8,708.5 389.8,709.9 401.8,710.9 415.8,710.5 433.8,712.3 449.7,712.7 461.7,713.7 479.7,713.9 491.7,713.3 505.7,713.5 515.7,714.3 527.6,714.3 533.6,713.5 540.0,705.0 546.0,704.3 550.0,704.3 562.0,705.5 574.0,705.5 582.0,706.9 587.9,706.5 597.9,707.5 609.9,709.1 617.9,708.3 623.9,709.5 629.9,708.9 641.9,710.1 649.9,709.9 659.8,710.5 669.8,710.3 683.8,712.3 695.8,712.7 705.8,711.9 717.8,712.9 731.7,713.1 737.7,712.3 749.7,712.5 761.7,714.1 771.7,713.5 781.7,714.3 791.7,713.1 801.6,713.9 809.6,713.5 817.6,712.1 829.6,712.1 838.0,711.5 850.0,712.1 862.0,711.7 877.9,712.5 897.9,711.5 917.9,712.5 929.9,707.9 935.9,707.1 947.8,708.3 959.8,708.1 971.8,710.5 981.8,710.9 999.8,710.9 1013.7,709.5 1025.7,711.3 1033.7,711.9 1045.7,713.9 1055.7,714.3 1061.7,713.5 1067.7,713.5 1073.7,711.9 1083.6,712.9 1091.6,712.5 1101.6,713.3 1110.0,713.1 1116.0,712.7 1128.0,707.5 1140.0,706.9 1145.9,707.9 1151.9,707.3 1157.9,707.9 1169.9,709.5 1187.9,711.5 1193.9,710.7 1205.9,711.9 1217.8,711.3 1229.8,712.9 1239.8,711.9 1259.8,713.5 1283.8,714.5 1289.7,714.1 1307.7,715.5 1313.7,692.6 1319.7,690.6 1325.7,690.4" fill="none" stroke="#b22833" stroke-width="1" stroke-linejoin="round" stroke-linecap="round" /><polyline points="1.9,762.0 6.7,753.0 13.5,750.8 25.1,753.3 34.7,752.0 48.2,750.8 66.5,753.7 77.1,754.3 88.7,754.3 96.4,753.0 108.0,753.3 115.7,756.2 120.5,756.6 126.5,751.2 132.5,745.3 138.5,746.9 144.5,753.0 150.5,750.1 156.5,757.4 162.5,754.8 168.5,750.7 174.5,723.4 180.5,728.0 186.5,742.5 192.5,748.1 198.5,755.9 204.5,750.7 210.5,750.5 216.5,751.7 222.5,752.4 228.5,754.7 234.5,753.4 240.5,750.9 246.5,751.4 252.5,744.6 258.5,746.3 264.5,747.0 270.5,748.9 276.5,750.1 282.5,753.8 288.5,756.0 294.5,756.2 300.5,754.9 306.5,757.6 312.5,755.1 318.5,751.9 324.5,754.2 330.5,751.9 336.5,749.6 342.5,752.3 348.5,752.3 354.5,752.2 360.5,749.5 366.5,755.2 372.5,753.4 378.5,757.1 384.5,758.0 390.5,758.3 396.5,763.3 402.5,764.9 408.5,757.4 414.5,752.7 420.5,746.4 426.5,743.9 432.5,743.6 438.5,743.6 444.5,748.1 450.5,752.3 456.5,748.1 462.5,748.8 468.5,746.7 474.5,745.2 480.5,748.5 486.5,750.6 492.5,749.4 498.5,747.3 504.5,746.2 510.5,747.0 516.5,747.4 522.5,747.2 528.5,748.9 534.5,746.6 540.5,738.8 546.5,737.2 552.5,740.4 558.5,745.2 564.5,748.4 570.5,749.5 576.5,750.9 582.5,751.6 588.5,753.8 594.5,754.9 600.5,755.9 606.5,757.9 612.5,760.2 618.5,764.3 624.5,765.5 630.5,766.4 636.5,767.2 642.5,765.4 648.5,765.8 654.5,765.3 660.5,763.5 666.5,763.6 672.5,762.3 678.5,761.8 684.5,761.5 690.5,759.2 696.5,756.8 702.5,760.1 708.5,761.6 714.5,764.1 720.5,762.4 726.5,757.3 732.5,755.2 738.5,766.9 744.5,761.4 750.5,769.5 756.5,772.6 762.5,770.2 768.5,771.9 774.5,774.7 780.5,771.9 786.5,769.2 792.5,764.8 798.5,764.5 804.5,763.9 810.5,762.6 816.5,766.9 822.5,769.9 828.5,768.3 834.5,763.6 840.5,764.3 846.5,764.8 852.5,764.0 858.5,764.2 864.5,767.9 870.5,769.3 876.5,766.3 882.5,762.3 888.5,768.1 894.5,767.0 900.5,772.4 906.5,771.8 912.5,767.5 918.5,768.5 924.5,770.7 930.5,774.5 936.5,771.1 942.5,768.1 948.5,767.6 954.5,763.1 960.5,762.3 966.5,763.1 972.5,763.3 978.5,763.8 984.5,766.0 990.5,766.1 996.5,767.0 1002.5,766.4 1008.5,762.8 1014.5,764.7 1020.5,763.6 1026.5,762.0 1032.5,765.1 1038.5,764.4 1044.5,763.3 1050.5,762.3 1056.5,761.9 1062.5,752.8 1068.5,754.0 1074.5,747.4 1080.5,744.5 1086.5,749.2 1092.5,748.7 1098.5,748.2 1104.5,749.4 1110.5,748.9 1116.5,749.1 1122.5,742.7 1128.5,734.4 1134.5,740.6 1140.5,747.8 1146.5,749.7 1152.5,753.0 1158.5,755.9 1164.5,756.3 1170.5,755.1 1176.5,755.6 1182.5,754.8 1188.5,756.0 1194.5,754.9 1200.5,757.1 1206.5,758.2 1212.5,755.2 1218.5,754.3 1224.5,754.6 1230.5,755.5 1236.5,762.0 1242.5,765.6 1248.5,771.2 1254.5,773.4 1260.5,769.6 1266.5,766.3 1272.5,759.5 1278.5,755.9 1284.5,754.0 1290.5,756.7 1296.5,753.5 1302.5,751.8 1308.5,752.1 1314.5,800.3 1320.5,784.9 1326.5,775.4" fill="none" stroke="#2962ff" stroke-width="1" stroke-linejoin="round" stroke-linecap="round" /></g><path d="M165.8,669.9 L174.5,665.2 L183.2,669.9 V682.8 a1.5,1.5 0 0 1 -1.5,1.5 H167.3 a1.5,1.5 0 0 1 -1.5,-1.5 Z" fill="#fff" stroke="#0d9279" stroke-width="1.8" stroke-linejoin="round"/><text x="174.5" y="680" font-size="12" text-anchor="middle" fill="#0d9279" font-family="Liberation Sans, sans-serif" textLength="6" lengthAdjust="spacingAndGlyphs">E</text><path d="M531.8,669.9 L540.5,665.2 L549.2,669.9 V682.8 a1.5,1.5 0 0 1 -1.5,1.5 H533.3 a1.5,1.5 0 0 1 -1.5,-1.5 Z" fill="#fff" stroke="#0d9279" stroke-width="1.8" stroke-linejoin="round"/><text x="540.5" y="680" font-size="12" text-anchor="middle" fill="#0d9279" font-family="Liberation Sans, sans-serif" textLength="6" lengthAdjust="spacingAndGlyphs">E</text><path d="M915.8,679.6 L924.5,684.5 L933.2,679.6 V667 a1.5,1.5 0 0 0 -1.5,-1.5 H917.3 a1.5,1.5 0 0 0 -1.5,1.5 Z" fill="#fff" stroke="#f23645" stroke-width="1.8" stroke-linejoin="round"/><text x="924.5" y="679.8" font-size="12" text-anchor="middle" fill="#f23645" font-family="Liberation Sans, sans-serif" textLength="6" lengthAdjust="spacingAndGlyphs">E</text><path d="M1305.8,679.6 L1314.5,684.5 L1323.2,679.6 V667 a1.5,1.5 0 0 0 -1.5,-1.5 H1307.3 a1.5,1.5 0 0 0 -1.5,1.5 Z" fill="#fff" stroke="#f23645" stroke-width="1.8" stroke-linejoin="round"/><text x="1314.5" y="679.8" font-size="12" text-anchor="middle" fill="#f23645" font-family="Liberation Sans, sans-serif" textLength="6" lengthAdjust="spacingAndGlyphs">E</text><circle cx="204.5" cy="675.4" r="9.5" fill="#fff" stroke="#2962ff" stroke-width="1.8"/><text x="204.5" y="680" font-size="12" text-anchor="middle" fill="#2962ff" font-family="Liberation Sans, sans-serif" textLength="6.8" lengthAdjust="spacingAndGlyphs">D</text><circle cx="576.5" cy="675.4" r="9.5" fill="#fff" stroke="#2962ff" stroke-width="1.8"/><text x="576.5" y="680" font-size="12" text-anchor="middle" fill="#2962ff" font-family="Liberation Sans, sans-serif" textLength="6.8" lengthAdjust="spacingAndGlyphs">D</text><circle cx="960.5" cy="675.4" r="9.5" fill="#fff" stroke="#2962ff" stroke-width="1.8"/><text x="960.5" y="680" font-size="12" text-anchor="middle" fill="#2962ff" font-family="Liberation Sans, sans-serif" textLength="6.8" lengthAdjust="spacingAndGlyphs">D</text><circle cx="1368.5" cy="675.4" r="9.5" fill="#fff" stroke="#2962ff" stroke-width="1.8"/><text x="1368.5" y="680" font-size="12" text-anchor="middle" fill="#2962ff" font-family="Liberation Sans, sans-serif" textLength="6.8" lengthAdjust="spacingAndGlyphs">D</text><rect x="2" y="805" width="1447" height="1" fill="#4a4a4a"/><rect x="1389" y="4" width="1" height="829" fill="#4a4a4a"/><g fill="#131722"><path d="M14,776 h11.5 v15 h-6 v-9 h-5.5 z"/><circle cx="31" cy="779" r="2.9"/><path d="M37.5,776 h6.8 l-6.2,15 h-6.8 z"/></g><circle cx="20" cy="20" r="9" fill="#3d3a3b"/><text x="20" y="25" font-family="Liberation Serif, serif" font-weight="bold" font-size="15" fill="#f9c21a" text-anchor="middle">N</text><g fill="none" stroke="#2a2e39" stroke-width="1.2"><path d="M1412.8,819.7 L1416.5,812.8 H1423.7 L1427.4,819.7 L1423.7,826.6 H1416.5 Z"/><circle cx="1420.1" cy="819.7" r="1.9"/></g></svg>
<div class="abs g" id="title" style="left:33px;top:10px;font-size:16.2px;line-height:20px;color:#4a4a4a;letter-spacing:-0.42px">New York Community Bancorp, Inc. · 1D · NYSE</div>
<div class="abs" style="left:378px;top:11px;width:40px;height:18px;border-radius:9px;overflow:hidden;background:#f0f0f1">
  <div style="position:absolute;left:20px;top:0;width:20px;height:18px;background:#f9c9d6"></div>
  <div style="position:absolute;left:6px;top:7.5px;width:10px;height:3px;border-radius:1.5px;background:#9a9a9a"></div>
  <div style="position:absolute;left:22px;top:0.5px;width:16px;text-align:center;font-size:17px;line-height:18px;color:#e0245e;font-weight:bold">≈</div>
</div>
<div class="abs ohlc" style="left:434px;top:13px;font-size:12.5px;line-height:16px;color:#2a6e4b"><span class="g">O</span>5.65</div>
<div class="abs ohlc" style="left:475px;top:13px;font-size:12.5px;line-height:16px;color:#2a6e4b"><span class="g">H</span>6.24</div>
<div class="abs ohlc" style="left:516px;top:13px;font-size:12.5px;line-height:16px;color:#2a6e4b"><span class="g">L</span>5.58</div>
<div class="abs ohlc" style="left:554.5px;top:13px;font-size:12.5px;line-height:16px;color:#2a6e4b"><span class="g">C</span>6.04</div>
<div class="abs ohlc" style="left:595px;top:13px;font-size:12.5px;line-height:16px;color:#2a6e4b">+0.29 (+5.04%)</div>
<div class="box" style="left:10px;border-color:#f23645;color:#f23645">6.04</div>
<div class="abs" style="left:59.5px;top:40px;font-size:11px;line-height:16px;letter-spacing:-0.3px">0.00</div>
<div class="box" style="left:89px;border-color:#2962ff;color:#2962ff">6.04</div>
<div class="abs g" id="ma" style="left:11px;top:68.5px;font-size:12px;line-height:16px;letter-spacing:0.066px">MA Ribbon SMA close 20 SMA close 50 SMA close 100 SMA close 200</div>
<div class="abs" style="left:402.5px;top:68.5px;font-size:12px;line-height:16px;color:#f23645;letter-spacing:0.5px">9.60</div>
<div class="abs" style="left:433.5px;top:68.5px;font-size:12px;line-height:16px;color:#2962ff;letter-spacing:0.5px">9.83</div>
<div class="abs" style="left:465.5px;top:68.5px;font-size:11px;line-height:16px;color:#131722">∅</div>
<div class="abs" style="left:479px;top:68.5px;font-size:12px;line-height:16px;color:#131722;letter-spacing:0.3px">10.71</div>
<div class="abs" style="left:11px;top:90px;width:29px;height:21px;box-sizing:border-box;border:1px solid #d1d4dc;border-radius:3px;background:#fff"><svg width="26" height="18" style="position:absolute;left:0;top:0"><path d="M9.5,11 l3.5,-3.5 l3.5,3.5" fill="none" stroke="#131722" stroke-width="1.3"/></svg></div>
<div class="abs g" style="left:11px;top:698px;font-size:12px;line-height:16px;letter-spacing:-0.27px">ATR 14 RMA</div>
<div class="abs" style="left:87px;top:698px;font-size:12px;line-height:16px;color:#b22833;letter-spacing:0.2px">0.6294</div>
<div class="abs g" style="left:11px;top:728px;font-size:12px;line-height:16px">CCI 20 hlc3 SMA 5</div>
<div class="abs" style="left:122px;top:728px;font-size:12px;line-height:16px;color:#2962ff">−231.60</div>
<div class="abs" style="left:1393px;top:8px;width:52px;height:26px;box-sizing:border-box;border:1px solid #e0e3eb;border-radius:4px;background:#fff">
 <div class="abs" style="left:3px;top:4px;font-size:12px;line-height:16px;color:#131722;transform:scaleX(0.82);transform-origin:left center">USD</div>
 <svg width="10" height="8" style="position:absolute;left:39px;top:10px"><path d="M2.3,2.2 l2.6,2.6 l2.6,-2.6" fill="none" stroke="#131722" stroke-width="1.3"/></svg>
</div>
<div class="pl" style="top:47.1px">14.00</div><div class="pl" style="top:82.3px">13.50</div><div class="pl" style="top:117.6px">13.00</div><div class="pl" style="top:152.9px">12.50</div><div class="pl" style="top:188.1px">12.00</div><div class="pl" style="top:223.4px">11.50</div><div class="pl" style="top:258.6px">11.00</div><div class="pl" style="top:293.9px">10.50</div><div class="pl" style="top:329.1px">10.00</div><div class="pl" style="top:364.4px">9.50</div><div class="pl" style="top:399.6px">9.00</div><div class="pl" style="top:434.9px">8.50</div><div class="pl" style="top:470.1px">8.00</div><div class="pl" style="top:505.3px">7.50</div><div class="pl" style="top:540.6px">7.00</div><div class="pl" style="top:575.8px">6.50</div><div class="pl" style="top:611.1px">6.00</div><div class="pl" style="top:646.3px">5.50</div><div class="pl" style="top:692.5px">0.5000</div><div class="pl" style="top:719.5px">400.00</div><div class="pl" style="top:751px">0.00</div><div class="pl" style="top:781px">−400.00</div>
<div class="tl" style="left:36px">Apr</div><div class="tl" style="left:150px">May</div><div class="tl" style="left:282px">Jun</div><div class="tl" style="left:408px">Jul</div><div class="tl" style="left:528px">Aug</div><div class="tl" style="left:666px">Sep</div><div class="tl" style="left:786px">Oct</div><div class="tl" style="left:918px">Nov</div><div class="tl" style="left:1044px">Dec</div><div class="tl b" style="left:1164px">2024</div><div class="tl" style="left:1290px">Feb</div>
<div id="wm1">茗兰财经</div>
<div id="wm2"><span style="left:1207.4px">z</span><span style="left:1234.3px">z</span><span style="left:1260.7px">r</span><span style="left:1283.8px">t</span><span style="left:1305.4px">0</span><span style="left:1337.1px">1</span><span style="left:1358.8px">.</span><span style="left:1384.9px">c</span><span style="left:1410.5px">n</span></div>
</body></html>
